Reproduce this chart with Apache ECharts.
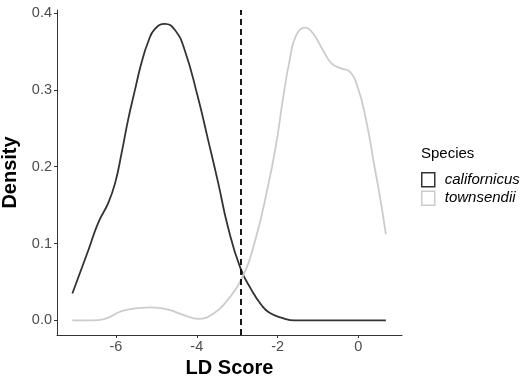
<!DOCTYPE html>
<html>
<head>
<meta charset="utf-8">
<script src="https://cdn.jsdelivr.net/npm/echarts@6/dist/echarts.min.js"></script>
<style>
  html, body { margin: 0; padding: 0; background: #fff; }
  #chart { width: 525px; height: 379px; }
</style>
</head>
<body>
<div id="chart"></div>
<script>
// density curves, [LD score, density]
const californicus = [
  [-7.08, 0.035], [-6.68, 0.092], [-6.44, 0.127], [-6.19, 0.153], [-6.02, 0.179],
  [-5.86, 0.218], [-5.70, 0.261], [-5.53, 0.300], [-5.37, 0.335], [-5.20, 0.363],
  [-5.04, 0.379], [-4.79, 0.386], [-4.54, 0.378], [-4.30, 0.352],
  [-3.97, 0.290], [-3.72, 0.235], [-3.47, 0.179], [-3.23, 0.122], [-2.92, 0.068],
  [-2.65, 0.040], [-2.40, 0.020], [-2.20, 0.010], [-1.87, 0.003], [-1.58, 0.000],
  [-1.0, 0.000], [0.0, 0.000], [0.68, 0.000]
];
const townsendii = [
  [-7.08, 0.000], [-6.60, 0.000], [-6.27, 0.002], [-5.86, 0.012], [-5.45, 0.016],
  [-5.12, 0.017], [-4.71, 0.014], [-4.30, 0.0065], [-3.97, 0.002], [-3.56, 0.010],
  [-3.23, 0.027], [-2.90, 0.053], [-2.57, 0.101], [-2.24, 0.174], [-2.03, 0.231],
  [-1.87, 0.287], [-1.70, 0.339], [-1.54, 0.371], [-1.31, 0.381], [-1.13, 0.374],
  [-0.88, 0.352], [-0.67, 0.335], [-0.43, 0.328], [-0.22, 0.324], [-0.02, 0.304],
  [0.19, 0.261], [0.40, 0.200], [0.56, 0.153], [0.68, 0.112]
];
const cutoff = -2.91;
const xTicks = [-6, -4, -2, 0];
const yTicks = [0, 0.1, 0.2, 0.3, 0.4];
const speciesNames = ['californicus', 'townsendii'];
const speciesColors = ['#333333', '#cccccc'];

const chart = echarts.init(document.getElementById('chart'));

const font = 'Liberation Sans, Arial, sans-serif';

chart.setOption({
  animation: false,
  title: {
    text: 'Species',
    left: 416,
    top: 141,
    textStyle: { fontFamily: font, fontSize: 15, fontWeight: 'normal', color: '#000' }
  },
  legend: {
    orient: 'vertical',
    left: 416,
    top: 167,
    icon: 'rect',
    itemWidth: 13,
    itemHeight: 14,
    itemGap: 3,
    textStyle: { fontFamily: font, fontSize: 15, fontStyle: 'italic', color: '#000', padding: [0, 0, 0, 5] },
    data: speciesNames.map((n, i) => ({
      name: n,
      itemStyle: { color: '#fff', borderColor: speciesColors[i], borderWidth: 1.5 }
    }))
  },
  grid: { left: 57, right: 123, top: 10, bottom: 44, outerBoundsMode: 'none', containLabel: false },
  xAxis: {
    type: 'value',
    min: -7.46,
    max: 1.08,
    name: 'LD Score',
    nameLocation: 'middle',
    nameGap: 22,
    nameTextStyle: { fontFamily: font, fontSize: 20, fontWeight: 'bold', color: '#000' },
    axisLine: { onZero: false, lineStyle: { color: '#333', width: 1 } },
    axisTick: { show: true, length: 3, customValues: xTicks, lineStyle: { color: '#333' } },
    axisLabel: { customValues: xTicks, fontFamily: font, fontSize: 14.5, color: '#4d4d4d', margin: 4 },
    splitLine: { show: false }
  },
  yAxis: {
    type: 'value',
    min: -0.019,
    max: 0.404,
    name: 'Density',
    nameLocation: 'middle',
    nameGap: 31,
    nameRotate: 90,
    nameTextStyle: { fontFamily: font, fontSize: 20, fontWeight: 'bold', color: '#000' },
    axisLine: { show: true, onZero: false, lineStyle: { color: '#333', width: 1 } },
    axisTick: { show: true, length: 3, customValues: yTicks, lineStyle: { color: '#333' } },
    axisLabel: {
      customValues: yTicks, fontFamily: font, fontSize: 14.5, color: '#4d4d4d', margin: 5,
      formatter: v => v.toFixed(1)
    },
    splitLine: { show: false }
  },
  series: [
    {
      name: speciesNames[0],
      type: 'line',
      data: californicus,
      smooth: 0.5,
      showSymbol: false,
      lineStyle: { color: speciesColors[0], width: 1.8 },
      itemStyle: { color: speciesColors[0] },
      markLine: {
        silent: true,
        symbol: 'none',
        label: { show: false },
        lineStyle: { color: '#000', type: [6, 4], width: 1.8 },
        data: [{ xAxis: cutoff }]
      }
    },
    {
      name: speciesNames[1],
      type: 'line',
      data: townsendii,
      smooth: 0.5,
      showSymbol: false,
      lineStyle: { color: speciesColors[1], width: 1.8 },
      itemStyle: { color: speciesColors[1] }
    }
  ]
});
</script>
</body>
</html>
